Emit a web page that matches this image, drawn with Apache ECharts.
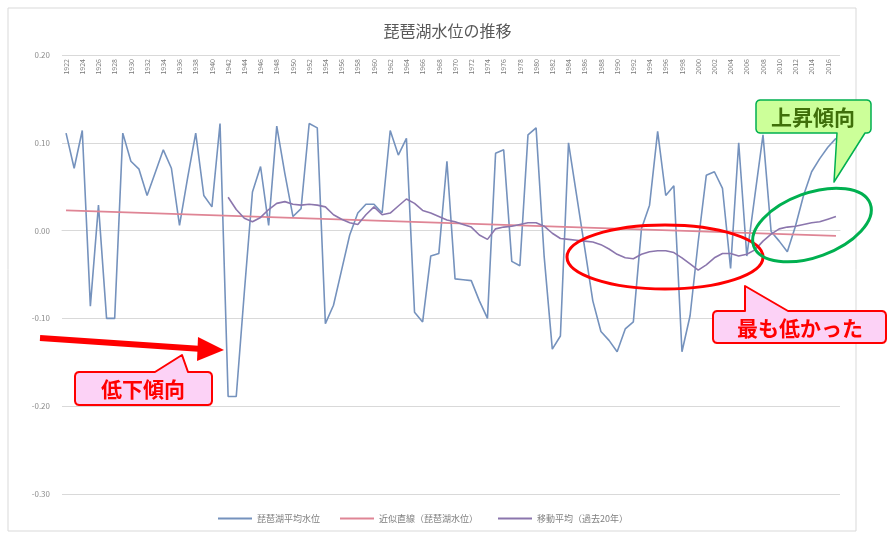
<!DOCTYPE html>
<html><head><meta charset="utf-8">
<script src="https://cdn.jsdelivr.net/npm/echarts@6/dist/echarts.min.js"></script>
<style>html,body{margin:0;padding:0;background:#fff}#c{width:895px;height:536px}</style>
</head><body><div id="c"></div>
<script>
const years = [1922,1923,1924,1925,1926,1927,1928,1929,1930,1931,1932,1933,1934,1935,1936,1937,1938,1939,1940,1941,
1942,1943,1944,1945,1946,1947,1948,1949,1950,1951,1952,1953,1954,1955,1956,1957,1958,1959,1960,1961,
1962,1963,1964,1965,1966,1967,1968,1969,1970,1971,1972,1973,1974,1975,1976,1977,1978,1979,1980,1981,
1982,1983,1984,1985,1986,1987,1988,1989,1990,1991,1992,1993,1994,1995,1996,1997,1998,1999,2000,2001,
2002,2003,2004,2005,2006,2007,2008,2009,2010,2011,2012,2013,2014,2015,2016,2017];

const waterLevel = [
0.111, 0.071, 0.114, -0.086, 0.029, -0.100, -0.100, 0.111, 0.079, 0.070,
0.040, 0.066, 0.092, 0.071, 0.006, 0.060, 0.111, 0.040, 0.027, 0.122,
-0.189, -0.189, -0.070, 0.044, 0.073, 0.006, 0.119, 0.065, 0.016, 0.025,
0.122, 0.117, -0.106, -0.085, -0.045, -0.005, 0.020, 0.030, 0.030, 0.020,
0.114, 0.086, 0.105, -0.093, -0.104, -0.029, -0.026, 0.079, -0.055, -0.056,
-0.057, -0.080, -0.100, 0.088, 0.092, -0.035, -0.040, 0.109, 0.117, -0.030,
-0.135, -0.120, 0.100, 0.040, -0.020, -0.080, -0.115, -0.125, -0.138, -0.112,
-0.104, 0.002, 0.029, 0.113, 0.040, 0.051, -0.138, -0.097, -0.013, 0.063,
0.067, 0.048, -0.043, 0.100, -0.029, 0.040, 0.109, -0.001, -0.012, -0.024,
0.005, 0.040, 0.067, 0.082, 0.095, 0.105];

const maStartIndex = 20;
const movingAvg = [
0.038, 0.024, 0.014, 0.010, 0.015, 0.024, 0.031, 0.033, 0.030, 0.029,
0.030, 0.029, 0.027, 0.018, 0.013, 0.009, 0.007, 0.018, 0.027, 0.018,
0.020, 0.028, 0.036, 0.031, 0.023, 0.020, 0.016, 0.012, 0.010, 0.007,
0.004, -0.005, -0.010, 0.002, 0.004, 0.005, 0.007, 0.009, 0.009, 0.005,
-0.003, -0.009, -0.010, -0.011, -0.012, -0.013, -0.016, -0.021, -0.027, -0.031,
-0.032, -0.027, -0.024, -0.023, -0.023, -0.025, -0.031, -0.038, -0.045, -0.039,
-0.031, -0.026, -0.026, -0.029, -0.027, -0.022, -0.012, -0.004, 0.002, 0.004,
0.005, 0.007, 0.009, 0.010, 0.013, 0.016];

const trendStart = 0.023, trendEnd = -0.006;

const seriesNames = ['琵琶湖平均水位', '近似直線（琵琶湖水位）', '移動平均（過去20年）'];
const yTicks = { min: -0.3, max: 0.2, step: 0.1 };

const maData = years.map((y, i) => i >= maStartIndex ? movingAvg[i - maStartIndex] : null);
const trendData = [[0, trendStart], [years.length - 1, trendEnd]];

// rounded-corner callout outline: box corners get small arcs, pointer points inserted on an edge
function callout(x0, y0, x1, y1, edge, ptr) {
  const r = 4, pts = [];
  const arc = (cx, cy, a0) => { for (let k = 0; k <= 3; k++) { const a = a0 + k * Math.PI / 6; pts.push([cx + r * Math.cos(a), cy + r * Math.sin(a)]); } };
  arc(x0 + r, y0 + r, Math.PI);             // top-left
  if (edge === 'top') ptr.forEach(p => pts.push(p));
  arc(x1 - r, y0 + r, -Math.PI / 2);        // top-right
  arc(x1 - r, y1 - r, 0);                   // bottom-right
  if (edge === 'bottom') ptr.forEach(p => pts.push(p));
  arc(x0 + r, y1 - r, Math.PI / 2);         // bottom-left
  return pts;
}

const FONT = '"Noto Sans CJK JP", "Noto Sans", sans-serif';
const chart = echarts.init(document.getElementById('c'), null, {renderer: 'canvas'});
chart.setOption({
  animation: false,
  backgroundColor: '#fff',
  textStyle: {fontFamily: FONT},
  title: {text: '琵琶湖水位の推移', left: 'center', top: 18,
    textStyle: {fontSize: 16, fontWeight: 'normal', color: '#595959', fontFamily: FONT}},
  grid: {left: 62, right: 55, top: 55, bottom: 42},
  legend: {
    left: 213, bottom: 8, itemWidth: 34, itemHeight: 2, itemGap: 20, icon: 'rect',
    textStyle: {fontSize: 9, color: '#7f7f7f'},
    data: seriesNames
  },
  xAxis: {
    type: 'category', data: years, position: 'top', boundaryGap: true,
    axisLine: {show: true, lineStyle: {color: '#d9d9d9'}},
    axisTick: {show: false},
    axisLabel: {inside: true, interval: 1, rotate: 90, fontSize: 7, color: '#7a7a7a', margin: 4}
  },
  yAxis: {
    type: 'value', min: yTicks.min, max: yTicks.max, interval: yTicks.step,
    axisLine: {show: false}, axisTick: {show: false},
    splitLine: {lineStyle: {color: '#d9d9d9'}},
    axisLabel: {fontSize: 8, color: '#8c8c8c', margin: 12, formatter: v => v.toFixed(2)}
  },
  series: [
    {name: seriesNames[0], type: 'line', data: waterLevel, symbol: 'none',
      lineStyle: {color: '#7592bd', width: 1.6}, itemStyle: {color: '#7592bd'}, z: 2},
    {name: seriesNames[1], type: 'line', data: trendData, symbol: 'none',
      lineStyle: {color: '#df8595', width: 1.6}, itemStyle: {color: '#df8595'}, z: 3},
    {name: seriesNames[2], type: 'line', data: maData, symbol: 'none',
      lineStyle: {color: '#8b76ad', width: 1.6}, itemStyle: {color: '#8b76ad'}, z: 4}
  ],
  graphic: [
    {type: 'rect', z: -1, shape: {x: 8, y: 8, width: 848, height: 523}, style: {fill: null, stroke: '#d9d9d9', lineWidth: 1}},
    // red arrow
    {type: 'line', z: 50, shape: {x1: 40, y1: 338, x2: 202, y2: 349}, style: {stroke: '#ff0000', lineWidth: 6}},
    {type: 'polygon', z: 50, shape: {points: [[198, 337], [224, 350], [197, 361]]}, style: {fill: '#ff0000'}},
    // 低下傾向 callout
    {type: 'polygon', z: 50, shape: {points: callout(75, 372, 212, 405, 'top', [[155,372],[182,355],[188,372]])},
      style: {fill: '#fcd2f6', stroke: '#ff0000', lineWidth: 2, lineJoin: 'round'}},
    {type: 'text', z: 51, x: 143, y: 389, style: {text: '低下傾向', fill: '#ff0000', font: 'bold 21px ' + FONT, align: 'center', verticalAlign: 'middle'}},
    // red ellipse
    {type: 'ellipse', z: 50, shape: {cx: 665, cy: 257, rx: 98, ry: 32}, style: {fill: null, stroke: '#ff0000', lineWidth: 3}},
    // 最も低かった callout
    {type: 'polygon', z: 50, shape: {points: callout(713, 311, 886, 343, 'top', [[745,311],[745,286],[788,311]])},
      style: {fill: '#fcd2f6', stroke: '#ff0000', lineWidth: 2, lineJoin: 'round'}},
    {type: 'text', z: 51, x: 800, y: 328, style: {text: '最も低かった', fill: '#ff0000', font: 'bold 21px ' + FONT, align: 'center', verticalAlign: 'middle'}},
    // green ellipse
    {type: 'ellipse', z: 50, x: 812, y: 225, rotation: 0.35, shape: {cx: 0, cy: 0, rx: 62, ry: 32}, style: {fill: null, stroke: '#00b050', lineWidth: 3}},
    // 上昇傾向 callout
    {type: 'polygon', z: 50, shape: {points: callout(756, 100, 871, 133, 'bottom', [[865,133],[834,182],[837,133]])},
      style: {fill: '#ccff99', stroke: '#00b050', lineWidth: 1.5, lineJoin: 'round'}},
    {type: 'text', z: 51, x: 813, y: 117, style: {text: '上昇傾向', fill: '#3f6f0a', font: 'bold 21px ' + FONT, align: 'center', verticalAlign: 'middle'}}
  ]
});
</script></body></html>
